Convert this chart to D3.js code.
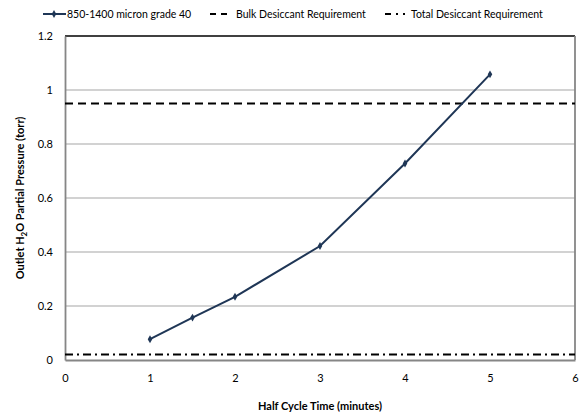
<!DOCTYPE html>
<html>
<head>
<meta charset="utf-8">
<script src="https://cdn.jsdelivr.net/npm/d3@7"></script>
<style>
  html, body { margin: 0; padding: 0; background: #fff; }
  svg { display: block; font-family: Lato, "Open Sans", sans-serif; }
</style>
</head>
<body>
<svg id="chart" width="588" height="417"></svg>
<script>
// Half cycle time (minutes) and outlet H2O partial pressure (torr)
const halfCycle = [1, 1.5, 2, 3, 4, 5];
const outletPressure = [0.077, 0.157, 0.234, 0.422, 0.728, 1.058];

// Requirement levels (torr)
const bulkRequirement = 0.95;
const totalRequirement = 0.02;

const xTicks = [0, 1, 2, 3, 4, 5, 6];
const yTicks = [0, 0.2, 0.4, 0.6, 0.8, 1, 1.2];

const seriesNames = ["850-1400 micron grade 40", "Bulk Desiccant Requirement", "Total Desiccant Requirement"];

const svg = d3.select("#chart");
const margin = { left: 65, right: 13, top: 36, bottom: 57 };
const W = 588, H = 417;

const x = d3.scaleLinear().domain([0, 6]).range([margin.left, W - margin.right]);
const y = d3.scaleLinear().domain([0, 1.2]).range([H - margin.bottom, margin.top]);

const lineColor = "#1f3656";
const axisGray = "#868686";

// Horizontal gridlines
svg.append("g")
  .selectAll("line")
  .data(yTicks.filter(v => v > 0 && v < 1.2))
  .join("line")
  .attr("x1", x(0)).attr("x2", x(6))
  .attr("y1", d => y(d)).attr("y2", d => y(d))
  .attr("stroke", "#a6a6a6").attr("stroke-width", 1.2);

// Plot-area frame: black top, gray sides and bottom
svg.append("line").attr("x1", x(0)).attr("x2", x(6)).attr("y1", y(1.2)).attr("y2", y(1.2))
  .attr("stroke", "#000").attr("stroke-width", 1.3);
svg.append("line").attr("x1", x(6)).attr("x2", x(6)).attr("y1", y(1.2)).attr("y2", y(0))
  .attr("stroke", axisGray).attr("stroke-width", 1.8);

// Axes
const xAxis = d3.axisBottom(x).tickValues(xTicks).tickFormat(d3.format("d")).tickSize(0).tickPadding(14);
const yAxis = d3.axisLeft(y).tickValues(yTicks).tickFormat(d => d === 0 ? "0" : d3.format("~g")(d)).tickSize(0).tickPadding(20);

const gx = svg.append("g").attr("transform", `translate(0,${y(0)})`).call(xAxis);
const gy = svg.append("g").attr("transform", `translate(${x(0)},0)`).call(yAxis);
[gx, gy].forEach(g => {
  g.select(".domain").attr("stroke", axisGray).attr("stroke-width", 1.8);
  g.selectAll("text").attr("font-size", 11).attr("fill", "#000")
    .attr("font-family", "Lato, 'Open Sans', sans-serif");
});
gy.selectAll("text").attr("dx", 8).attr("text-anchor", "end");

// Requirement lines
svg.append("line")
  .attr("x1", x(0)).attr("x2", x(6))
  .attr("y1", y(bulkRequirement)).attr("y2", y(bulkRequirement))
  .attr("stroke", "#000").attr("stroke-width", 2).attr("stroke-dasharray", "8,5");
svg.append("line")
  .attr("x1", x(0)).attr("x2", x(6))
  .attr("y1", y(totalRequirement)).attr("y2", y(totalRequirement))
  .attr("stroke", "#000").attr("stroke-width", 2).attr("stroke-dasharray", "8,4,2,4");

// Data series
const pts = halfCycle.map((t, i) => [t, outletPressure[i]]);
svg.append("path")
  .datum(pts)
  .attr("d", d3.line().x(d => x(d[0])).y(d => y(d[1])))
  .attr("fill", "none").attr("stroke", lineColor).attr("stroke-width", 2);
const diamond = d3.symbol().type(d3.symbolDiamond).size(18);
svg.append("g").selectAll("path")
  .data(pts)
  .join("path")
  .attr("d", diamond)
  .attr("transform", d => `translate(${x(d[0])},${y(d[1])})`)
  .attr("fill", lineColor);

// Axis titles
svg.append("text")
  .attr("x", (x(0) + x(6)) / 2).attr("y", 410)
  .attr("text-anchor", "middle").attr("font-size", 11).attr("font-weight", "bold")
  .text("Half Cycle Time (minutes)");

const yt = svg.append("text")
  .attr("transform", `translate(24,${(y(0) + y(1.2)) / 2}) rotate(-90)`)
  .attr("text-anchor", "middle").attr("font-size", 11).attr("font-weight", "bold");
yt.append("tspan").text("Outlet H");
yt.append("tspan").attr("font-size", 8).attr("dy", 3).text("2");
yt.append("tspan").attr("dy", -3).text("O Partial Pressure (torr)");

// Legend
const legendY = 14;
const legend = svg.append("g").attr("font-size", 10.5);
// series 1
legend.append("line").attr("x1", 43).attr("x2", 66).attr("y1", legendY).attr("y2", legendY)
  .attr("stroke", lineColor).attr("stroke-width", 2);
legend.append("path").attr("d", diamond).attr("transform", `translate(54,${legendY})`).attr("fill", lineColor);
legend.append("text").attr("x", 67).attr("y", legendY + 4).text(seriesNames[0]);
// series 2
legend.append("line").attr("x1", 210).attr("x2", 232).attr("y1", legendY).attr("y2", legendY)
  .attr("stroke", "#000").attr("stroke-width", 2).attr("stroke-dasharray", "6,5");
legend.append("text").attr("x", 236).attr("y", legendY + 4).text(seriesNames[1]);
// series 3
legend.append("line").attr("x1", 385).attr("x2", 410).attr("y1", legendY).attr("y2", legendY)
  .attr("stroke", "#000").attr("stroke-width", 2).attr("stroke-dasharray", "6,5,2,5,2,5");
legend.append("text").attr("x", 411).attr("y", legendY + 4).text(seriesNames[2]);
</script>
</body>
</html>
